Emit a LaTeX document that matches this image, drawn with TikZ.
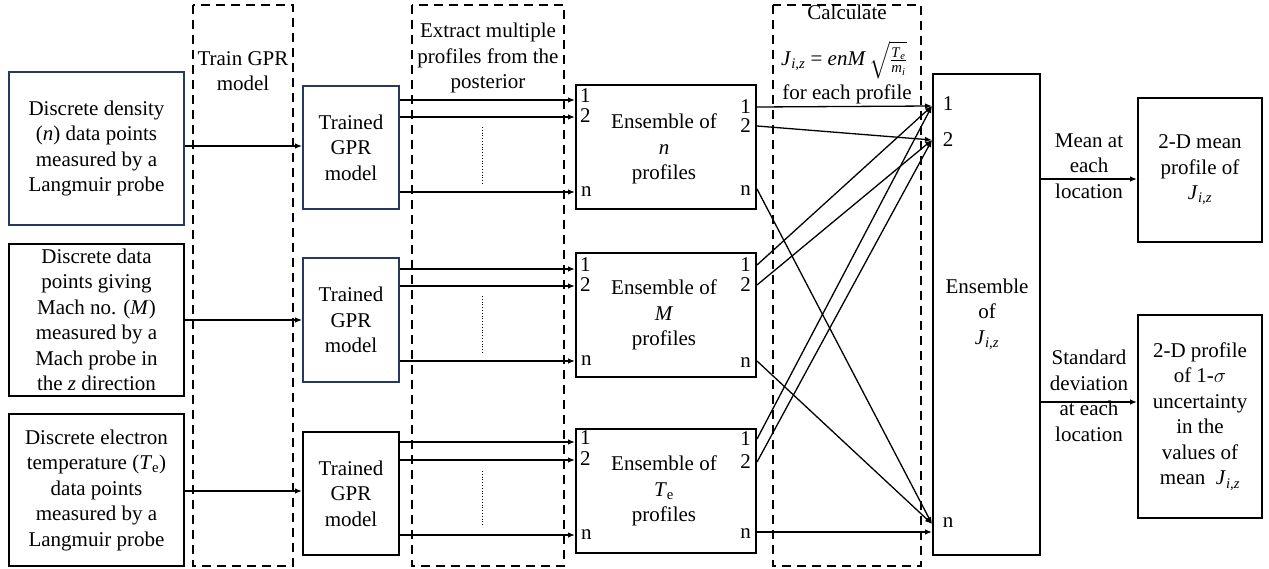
\documentclass[tikz,border=0pt]{standalone}
\usepackage{amsmath}
\usepackage{fontspec}
\IfFontExistsTF{LiberationSerif-Regular.ttf}{%
  \setmainfont{LiberationSerif}[Extension=.ttf,UprightFont=*-Regular,BoldFont=*-Bold,ItalicFont=*-Italic,BoldItalicFont=*-BoldItalic]%
}{%
  \IfFontExistsTF{texgyretermes-regular.otf}{%
    \setmainfont{texgyretermes}[Extension=.otf,UprightFont=*-regular,BoldFont=*-bold,ItalicFont=*-italic,BoldItalicFont=*-bolditalic]%
  }{\setmainfont{Liberation Serif}}%
}
\newcommand{\mi}[1]{\textit{#1}}
\newcommand{\Jiz}{\mi{J}\textsubscript{\mi{i,z}}}
\usetikzlibrary{arrows.meta,calc}
\definecolor{boxblue}{RGB}{38,58,96}
\begin{document}
\begin{tikzpicture}[x=1pt,y=-1pt,
  every node/.style={font=\fontsize{21}{25.5}\selectfont, inner sep=0pt, align=center},
  box/.style={draw=black, line width=2pt, minimum width=#1},
  bluebox/.style={draw=boxblue, line width=1.8pt},
  dbox/.style={draw=black, line width=2.2pt, dash pattern=on 9pt off 6pt},
  arr/.style={line width=1.3pt, -{Latex[length=7pt,width=5.5pt]}},
  dots/.style={line width=0.8pt, dotted}
]
\useasboundingbox (0,0) rectangle (1269,569);

% dashed stage boxes
\draw[dbox] (193,5) rectangle (293,566);
\draw[dbox] (412,5) rectangle (564,566);
\draw[dbox] (773,5) rectangle (921,566);

% stage labels
\node (lA) at (243,71) {Train GPR\\model};
\node (lB) at (488,58) {Extract multiple\\profiles from the\\posterior};
\node (lC1) at (847,12) {Calculate};
\node (lC2) at (844,60) {\Jiz{} = \mi{enM}\,$\sqrt{\tfrac{\text{\mi{T}}_{\text{\mi{e}}}}{\text{\mi{m}}_{\text{\mi{i}}}}}$};
\node (lC3) at (847,94) {for each profile};

% input boxes
\node[bluebox, minimum width=175pt, minimum height=153pt] (in1) at (96.5,148.5)
  {Discrete density\\(\mi{n}) data points\\measured by a\\Langmuir probe};
\node[box=175pt, minimum height=152pt] (in2) at (96.5,320)
  {Discrete data\\points giving\\Mach no. (\mi{M})\\measured by a\\Mach probe in\\the \mi{z} direction};
\node[box=175pt, minimum height=152pt] (in3) at (96.5,490)
  {Discrete electron\\temperature (\mi{T}\textsubscript{e})\\data points\\measured by a\\Langmuir probe};

% GPR boxes
\node[bluebox, minimum width=96pt, minimum height=123pt] (g1) at (351,147.5) {Trained\\GPR\\model};
\node[bluebox, minimum width=96pt, minimum height=124pt] (g2) at (351,320) {Trained\\GPR\\model};
\node[box=96pt, minimum height=123pt] (g3) at (351,493.5) {Trained\\GPR\\model};

% ensemble boxes
\node[box=180pt, minimum height=124pt] (e1) at (666,147) {};
\node[box=180pt, minimum height=124pt] (e2) at (666,315) {};
\node[box=180pt, minimum height=124pt] (e3) at (666,491) {};
\node (t1) at (664,149) {Ensemble of\\\mi{n}\\profiles};
\node (t2) at (664,315) {Ensemble of\\\mi{M}\\profiles};
\node (t3) at (664,491) {Ensemble of\\\mi{T}\textsubscript{e}\\profiles};

% J ensemble box
\node[box=107pt, minimum height=481pt] (J) at (986.5,314.5) {};
\node (tJ) at (987,314) {Ensemble\\of\\\Jiz};
\node (J1) at (948,104) {1};
\node (J2) at (948,140) {2};
\node (Jn) at (948,523) {n};

% output boxes
\node[box=124pt, minimum height=144pt] (m) at (1200,170) {2-D mean\\profile of\\\Jiz};
\node[box=124pt, minimum height=203pt] (s) at (1200,416.5)
  {2-D profile\\of 1-$\sigma$\\uncertainty\\in the\\values of\\mean\ \ \Jiz};

\node (lm) at (1089,166) {Mean at\\each\\location};
\node (ls) at (1089,396) {Standard\\deviation\\at each\\location};

% input -> GPR
\draw[arr] (in1.east |- g1.west) ++(0,-1.5) coordinate (a1) -- (a1 -| g1.west);
\draw[arr] (in2.east) -- (in2.east -| g2.west);
\draw[arr] (in3.east) ++(0,1) coordinate (a3) -- (a3 -| g3.west);

% ports on ensemble boxes (left)
\foreach \e/\g/\a/\b/\c in {e1/g1/16/33/108, e2/g2/17/34/109, e3/g3/14/32/107}{
  \coordinate (\e l1) at ($(\e.north west)+(0,\a)$);
  \coordinate (\e l2) at ($(\e.north west)+(0,\b)$);
  \coordinate (\e ln) at ($(\e.north west)+(0,\c)$);
  \draw[arr] (\e l1 -| \g.east) -- (\e l1);
  \draw[arr] (\e l2 -| \g.east) -- (\e l2);
  \draw[arr] (\e ln -| \g.east) -- (\e ln);
  \node[anchor=west] at ($(\e l1)+(5,-4)$) {1};
  \node[anchor=west] at ($(\e l2)+(5,-1)$) {2};
  \node[anchor=west] at ($(\e ln)+(6,0)$) {n};
}
% dotted lines
\draw[dots] (482,127) -- (482,184);
\draw[dots] (482,296) -- (482,353);
\draw[dots] (482,471) -- (482,527);

% ports on ensemble boxes (right)
\foreach \e/\a/\b/\c in {e1/23/42/105, e2/13/33/109, e3/11/34/104}{
  \coordinate (\e r1) at ($(\e.north east)+(0,\a)$);
  \coordinate (\e r2) at ($(\e.north east)+(0,\b)$);
  \coordinate (\e rn) at ($(\e.north east)+(0,\c)$);
  \node[anchor=east] at ($(\e r1)+(-6,0)$) {1};
  \node[anchor=east] at ($(\e r2)+(-6,0)$) {2};
  \node[anchor=east] at ($(\e rn)+(-6,2)$) {n};
}
\coordinate (j1) at ($(J.north west)+(0,33)$);
\coordinate (j2) at ($(J.north west)+(0,67)$);
\coordinate (jn) at ($(J.south west)+(0,-32)$);

\draw[arr] (e1r1) -- (j1);
\draw[arr] (e1r2) -- (j2);
\draw[arr] (e1rn) -- (jn);
\draw[arr] (e2r1) -- (j1);
\draw[arr] (e2r2) -- (j2);
\draw[arr] (e2rn) -- (jn);
\draw[arr] (e3r1) -- (j1);
\draw[arr] (e3r2) -- (j2);
\draw[arr] (e3rn) -- (e3rn -| J.west);

% outputs
\coordinate (o1) at ($(m.west)+(0,9)$);
\coordinate (o2) at ($(s.west)+(0,-14.5)$);
\draw[arr] (o1 -| J.east) -- (o1);
\draw[arr] (o2 -| J.east) -- (o2);
\end{tikzpicture}
\end{document}
